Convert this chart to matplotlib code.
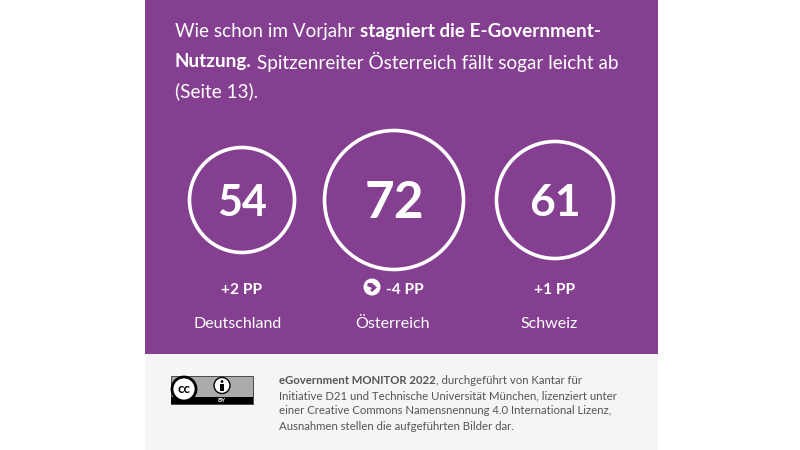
#!/usr/bin/env python3
import matplotlib
matplotlib.use("Agg")
import matplotlib.pyplot as plt
from matplotlib.patches import Circle, Rectangle, Polygon

plt.rcParams["font.family"] = ["Lato", "DejaVu Sans"]

countries = ["Deutschland", "Österreich", "Schweiz"]
values = [54, 72, 61]
changes = ["+2 PP", "-4 PP", "+1 PP"]

# pixel layout of the three rings
cx = [242, 394, 555]
radius = [52.5, 69.5, 58.5]
num_size = [31, 37, 32]

PURPLE = "#853f91"
GREY_BG = "#f5f5f5"
GREY_TXT = "#555555"

fig = plt.figure(figsize=(8, 4.5), dpi=100)
ax = fig.add_axes([0, 0, 1, 1])
ax.set_xlim(0, 800); ax.set_ylim(450, 0); ax.axis("off")

ax.add_patch(Rectangle((145, 0), 513, 354, color=PURPLE, lw=0))
ax.add_patch(Rectangle((145, 354), 513, 96, color=GREY_BG, lw=0))


def runs(x, y, parts, size, color):
    # mixed regular/bold text on one line, placed piece by piece
    r = fig.canvas.get_renderer()
    for s, w in parts:
        t = ax.text(x, y, s, fontsize=size, color=color, weight=w, va="center", ha="left")
        bb = t.get_window_extent(r)
        x += bb.width
    return x


runs(175, 32, [("Wie schon im Vorjahr ", "normal"), ("stagniert die E-Government-", "bold")], 13.6, "white")
runs(175, 62, [("Nutzung.", "bold"), (" Spitzenreiter Österreich fällt sogar leicht ab", "normal")], 13.6, "white")
runs(175, 91, [("(Seite 13).", "normal")], 13.6, "white")

for i in range(3):
    ax.add_patch(Circle((cx[i], 200), radius[i], fc="none", ec="white", lw=2.6))
    ax.text(cx[i], 203, str(values[i]), color="white", fontsize=num_size[i], weight="bold",
            ha="center", va="center")
    ax.text(cx[i] + (11 if i == 1 else 0), 290, changes[i], color="white", fontsize=11.2, weight="bold",
            ha="center", va="center")
    ax.text(cx[i] - (1 if i == 1 else 6 if i == 2 else 4), 323.5, countries[i], color="white", fontsize=11.5,
            ha="center", va="center")

# arrow badge next to the Austrian change
ax.add_patch(Circle((372, 287), 8.5, fc="white", ec="none"))
ax.add_patch(Polygon([(368, 283), (372, 283), (377, 287.5), (372, 292), (370, 290), (372, 288), (367, 286)],
                     fc=PURPLE, ec="none"))

# CC BY badge
ax.add_patch(Rectangle((171, 376), 82, 28, fc="#a9aca8", ec="#333333", lw=0.6))
ax.add_patch(Rectangle((171, 397), 82, 7, fc="black", lw=0))
ax.add_patch(Circle((184, 389), 12, fc="white", ec="black", lw=2))
ax.text(184, 389, "cc", fontsize=9.5, weight="bold", color="black", ha="center", va="center")
ax.add_patch(Circle((222, 385.5), 8, fc="white", ec="black", lw=1))
ax.add_patch(Circle((222, 381.5), 1.4, fc="black", lw=0))
ax.add_patch(Rectangle((220, 384), 4, 7, fc="black", lw=0))
ax.text(222, 400.5, "BY", fontsize=4.5, weight="bold", color="white", ha="center", va="center")

runs(279, 381, [("eGovernment MONITOR 2022", "bold"), (", durchgeführt von Kantar für", "normal")], 8.2, GREY_TXT)
runs(279, 396, [("Initiative D21 und Technische Universität München, lizenziert unter", "normal")], 8.2, GREY_TXT)
runs(279, 411, [("einer Creative Commons Namensnennung 4.0 International Lizenz,", "normal")], 8.2, GREY_TXT)
runs(279, 426, [("Ausnahmen stellen die aufgeführten Bilder dar.", "normal")], 8.2, GREY_TXT)

fig.savefig("out.png", dpi=100)
